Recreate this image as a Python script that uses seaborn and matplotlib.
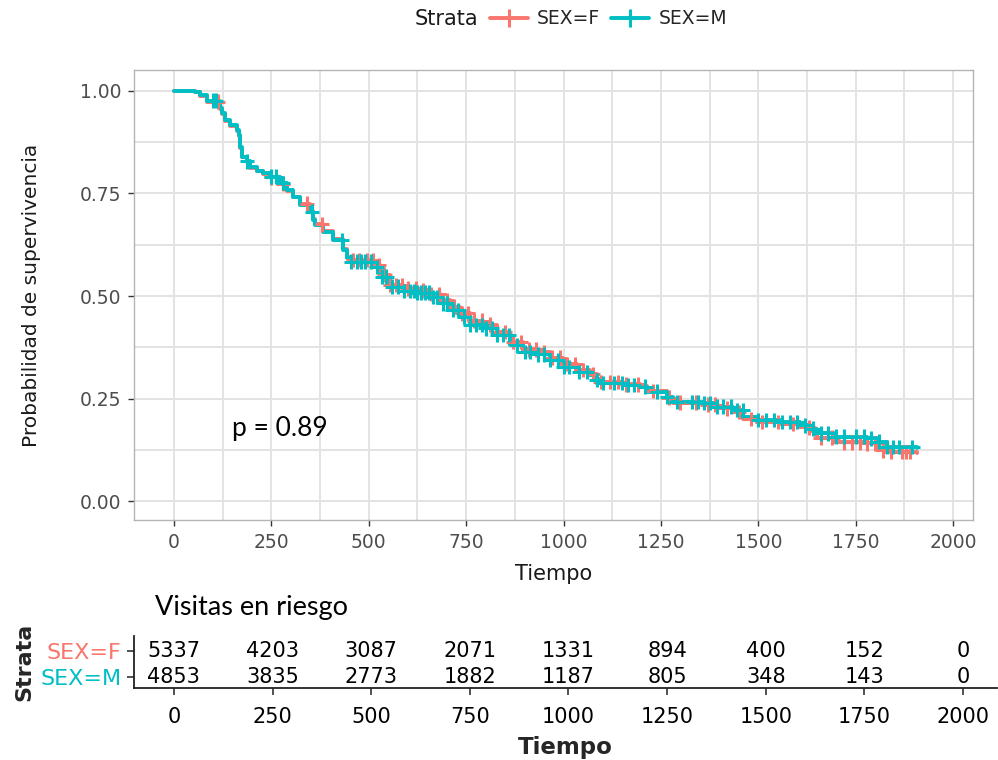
import numpy as np
import pandas as pd
import matplotlib
matplotlib.use("Agg")
import matplotlib.pyplot as plt
from matplotlib.lines import Line2D
import seaborn as sns

# Kaplan-Meier step curves by sex (time in days, survival probability)
tiempo_pasos = [0, 54, 67, 84, 118, 122, 131, 144, 161, 167, 169, 174, 187, 195,
                212, 229, 246, 272, 289, 306, 323, 349, 357, 362, 383, 408, 434,
                443, 452, 511, 529, 555, 588, 623, 657, 683, 709, 734, 760, 793,
                828, 863, 896, 931, 965, 999, 1034, 1068, 1085, 1094, 1153, 1196,
                1213, 1265, 1282, 1359, 1393, 1436, 1461, 1496, 1556, 1607, 1633,
                1650, 1693, 1778, 1804, 1830, 1907]

surv_f = [1.0, 0.997, 0.988, 0.974, 0.955, 0.944, 0.927, 0.915, 0.903, 0.891,
          0.862, 0.838, 0.826, 0.813, 0.805, 0.798, 0.789, 0.774, 0.757, 0.742,
          0.725, 0.708, 0.688, 0.675, 0.659, 0.638, 0.614, 0.596, 0.588, 0.576,
          0.552, 0.527, 0.519, 0.514, 0.505, 0.490, 0.474, 0.458, 0.440, 0.430,
          0.412, 0.388, 0.370, 0.364, 0.350, 0.334, 0.320, 0.310, 0.298, 0.290,
          0.285, 0.280, 0.268, 0.252, 0.240, 0.235, 0.226, 0.217, 0.200, 0.193,
          0.188, 0.180, 0.170, 0.155, 0.143, 0.141, 0.124, 0.120, 0.117]

surv_m = [1.0, 0.997, 0.990, 0.976, 0.958, 0.946, 0.929, 0.917, 0.905, 0.893,
          0.864, 0.840, 0.828, 0.815, 0.806, 0.800, 0.791, 0.776, 0.759, 0.742,
          0.722, 0.706, 0.685, 0.673, 0.657, 0.637, 0.612, 0.592, 0.584, 0.571,
          0.547, 0.523, 0.512, 0.508, 0.498, 0.482, 0.466, 0.450, 0.429, 0.421,
          0.405, 0.380, 0.364, 0.358, 0.344, 0.327, 0.315, 0.307, 0.295, 0.288,
          0.283, 0.279, 0.267, 0.254, 0.242, 0.239, 0.230, 0.222, 0.206, 0.198,
          0.193, 0.185, 0.177, 0.165, 0.157, 0.153, 0.145, 0.132, 0.130]

# Censoring times per group
censura_f = [112, 250, 280, 341, 380, 460, 475, 495, 510, 525, 540, 555, 570,
             585, 600, 620, 640, 660, 680, 700, 720, 740, 755, 770, 790, 810,
             830, 850, 870, 890, 910, 930, 950, 970, 990, 1010, 1030, 1050, 1075,
             1095, 1120, 1140, 1160, 1190, 1230, 1270, 1300, 1340, 1370, 1390,
             1420, 1450, 1480, 1510, 1550, 1590, 1630, 1660, 1690, 1720, 1740,
             1760, 1780, 1800, 1820, 1840, 1870, 1880, 1890]

censura_m = [100, 108, 187, 250, 262, 280, 354, 431, 455, 470, 480, 490, 505,
             520, 535, 545, 560, 575, 590, 605, 615, 625, 635, 645, 655, 665,
             675, 690, 700, 715, 730, 745, 760, 775, 790, 800, 815, 830, 845,
             860, 880, 900, 915, 935, 950, 965, 985, 1000, 1015, 1040, 1060,
             1085, 1100, 1130, 1150, 1165, 1180, 1210, 1240, 1265, 1290, 1330,
             1345, 1360, 1375, 1395, 1410, 1430, 1445, 1460, 1500, 1520, 1540,
             1560, 1580, 1600, 1620, 1640, 1660, 1680, 1700, 1720, 1750, 1770,
             1790, 1810, 1830, 1845, 1860, 1895]

# Number at risk table
tiempos_riesgo = [0, 250, 500, 750, 1000, 1250, 1500, 1750, 2000]
riesgo_f = [5337, 4203, 3087, 2071, 1331, 894, 400, 152, 0]
riesgo_m = [4853, 3835, 2773, 1882, 1187, 805, 348, 143, 0]

estratos = ["SEX=F", "SEX=M"]
p_valor = 0.89

colores = {"SEX=F": "#F8766D", "SEX=M": "#00BFC4"}

sns.set_theme(style="white")
plt.rcParams["font.family"] = ["DejaVu Sans"]

# Long-format frames for seaborn
curvas = pd.concat([
    pd.DataFrame({"tiempo": tiempo_pasos, "surv": surv_f, "estrato": "SEX=F"}),
    pd.DataFrame({"tiempo": tiempo_pasos, "surv": surv_m, "estrato": "SEX=M"}),
], ignore_index=True)


def valor_escalon(tiempos, valores, t):
    idx = np.searchsorted(np.asarray(tiempos), np.asarray(t), side="right") - 1
    return np.asarray(valores)[idx]


censuras = pd.concat([
    pd.DataFrame({"tiempo": censura_f,
                  "surv": valor_escalon(tiempo_pasos, surv_f, censura_f),
                  "estrato": "SEX=F"}),
    pd.DataFrame({"tiempo": censura_m,
                  "surv": valor_escalon(tiempo_pasos, surv_m, censura_m),
                  "estrato": "SEX=M"}),
], ignore_index=True)

W, H = 998, 760
fig = plt.figure(figsize=(W / 100, H / 100), dpi=100)

# ---- Survival panel ----
ax = fig.add_axes([134 / W, 240 / H, 839 / W, 450 / H])
sns.lineplot(data=curvas, x="tiempo", y="surv", hue="estrato",
             hue_order=estratos, palette=colores, drawstyle="steps-post",
             estimator=None, sort=False, lw=2.8, legend=False, ax=ax)
sns.scatterplot(data=censuras, x="tiempo", y="surv", hue="estrato",
                hue_order=estratos, palette=colores, marker="+", s=110,
                linewidth=2.2, legend=False, ax=ax, zorder=3)

ax.set_xlim(-102.7, 2051)
ax.set_ylim(-0.046, 1.051)
ax.set_xticks(tiempos_riesgo)
ax.set_xticks(np.arange(125, 2000, 250), minor=True)
ax.set_yticks([0, 0.25, 0.5, 0.75, 1.0])
ax.set_yticklabels(["0.00", "0.25", "0.50", "0.75", "1.00"])
ax.set_yticks([0.125, 0.375, 0.625, 0.875], minor=True)
ax.grid(which="both", color="#e3e3e3", lw=1.4)
ax.set_axisbelow(True)
for s in ax.spines.values():
    s.set_color("#b5b5b5")
    s.set_linewidth(1.0)
ax.tick_params(which="major", direction="out", length=4, width=1,
               color="#333333", labelcolor="#4d4d4d", labelsize=13.5, pad=5,
               left=True, bottom=True)
ax.tick_params(which="minor", length=0)
ax.set_xlabel("Tiempo", fontsize=15, color="#1a1a1a", labelpad=9)
ax.set_ylabel("Probabilidad de supervivencia", fontsize=14.5,
              color="#1a1a1a", labelpad=28)

ax.text(150, 0.178, f"p = {p_valor}", fontsize=19, family=["Lato", "DejaVu Sans"],
        ha="left", va="center", color="black")

# ---- Legend on top ----
fig.text(415 / W, 1 - 19 / H, "Strata", fontsize=15, color="#1a1a1a",
         ha="left", va="center")
manejadores = [Line2D([], [], color=colores[e], marker="+", markersize=13,
                      markeredgewidth=2.2, lw=2.8) for e in estratos]
fig.legend(manejadores, estratos, loc="center left",
           bbox_to_anchor=(490 / W, 1 - 19 / H), ncol=2, frameon=False,
           fontsize=13.5, handlelength=2.0, handletextpad=0.5,
           columnspacing=0.6, borderaxespad=0, borderpad=0)

# ---- Risk table ----
axr = fig.add_axes([134 / W, 72 / H, 863 / W, 52 / H])
axr.set_xlim(-101, 2086)
axr.set_ylim(-0.42, 1.58)
for t, nf, nm in zip(tiempos_riesgo, riesgo_f, riesgo_m):
    axr.text(t, 1, str(nf), ha="center", va="center", fontsize=15, color="black")
    axr.text(t, 0, str(nm), ha="center", va="center", fontsize=15, color="black")
axr.set_xticks(tiempos_riesgo)
axr.set_yticks([1, 0])
axr.set_yticklabels(estratos)
for lab, e in zip(axr.get_yticklabels(), estratos):
    lab.set_color(colores[e])
axr.tick_params(axis="x", direction="out", length=5, width=1.2, color="#333333",
                labelsize=15, labelcolor="black", pad=9, bottom=True)
axr.tick_params(axis="y", direction="out", length=5, width=1.2, color="#333333",
                labelsize=16, pad=4, left=True)
for nombre in ("top", "right"):
    axr.spines[nombre].set_visible(False)
for nombre in ("left", "bottom"):
    axr.spines[nombre].set_color("#222222")
    axr.spines[nombre].set_linewidth(1.3)
axr.set_xlabel("Tiempo", fontsize=16.5, fontweight="bold", labelpad=6)
axr.set_ylabel("Strata", fontsize=16, fontweight="bold", labelpad=4)
axr.set_facecolor("white")

fig.text(155 / W, 1 - 608 / H, "Visitas en riesgo", fontsize=19.5,
         family=["Lato", "DejaVu Sans"], ha="left", va="center", color="black")

fig.savefig("out.png", dpi=100, facecolor="white")
